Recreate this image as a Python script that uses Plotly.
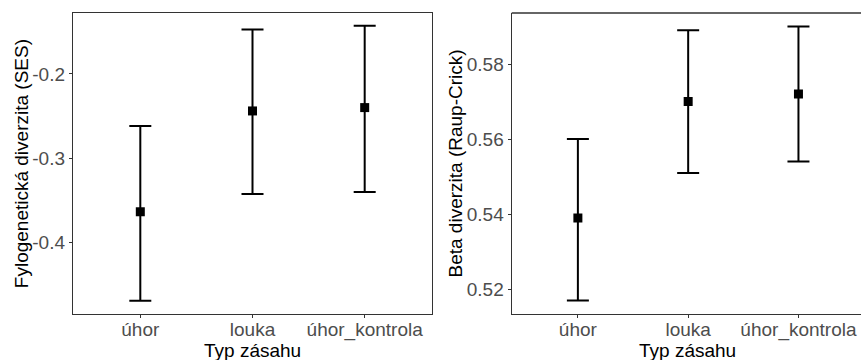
import plotly.graph_objects as go

categories = ["úhor", "louka", "úhor_kontrola"]
pd_mean = [-0.364, -0.244, -0.240]
pd_upper = [-0.262, -0.147, -0.1425]
pd_lower = [-0.470, -0.343, -0.3405]
beta_mean = [0.539, 0.570, 0.572]
beta_upper = [0.560, 0.589, 0.590]
beta_lower = [0.517, 0.551, 0.554]

pd_ticks = [-0.4, -0.3, -0.2]
beta_ticks = [0.52, 0.54, 0.56, 0.58]

W, H = 861, 360
xpos = list(range(len(categories)))
FONT = "Liberation Sans, Arial, sans-serif"
LINE = "#333333"

fig = go.Figure()
fig.add_trace(go.Scatter(
    x=xpos, y=pd_mean, mode="markers",
    marker=dict(symbol="square", size=9, color="black"),
    error_y=dict(type="data", symmetric=False,
                 array=[u - m for u, m in zip(pd_upper, pd_mean)],
                 arrayminus=[m - l for m, l in zip(pd_mean, pd_lower)],
                 thickness=2, width=11, color="black"),
    xaxis="x", yaxis="y", showlegend=False))
fig.add_trace(go.Scatter(
    x=xpos, y=beta_mean, mode="markers",
    marker=dict(symbol="square", size=9, color="black"),
    error_y=dict(type="data", symmetric=False,
                 array=[u - m for u, m in zip(beta_upper, beta_mean)],
                 arrayminus=[m - l for m, l in zip(beta_mean, beta_lower)],
                 thickness=2, width=11, color="black"),
    xaxis="x2", yaxis="y2", showlegend=False))

tickfont = dict(family=FONT, size=19, color="#4d4d4d")
common_ax = dict(showgrid=False, zeroline=False, showline=True, linecolor=LINE,
                 linewidth=1.3, ticks="outside", ticklen=3, tickwidth=1,
                 tickcolor=LINE, tickfont=tickfont)

ydom = [1 - 314 / H, 1 - 13 / H]
fig.update_layout(
    width=W, height=H, margin=dict(l=0, r=0, t=0, b=0),
    paper_bgcolor="white", plot_bgcolor="white",
    xaxis=dict(domain=[73 / W, 432 / W], range=[-0.6, 2.6], tickvals=xpos,
               ticktext=categories, mirror=True, anchor="y",
               ticklabelstandoff=-5, **common_ax),
    yaxis=dict(domain=ydom, range=[-0.4857, -0.1274], tickvals=pd_ticks,
               ticktext=[f"{v:.1f}" for v in pd_ticks], mirror=True, anchor="x",
               **common_ax),
    xaxis2=dict(domain=[511.7 / W, 1.0], range=[-0.6, 2.567], tickvals=xpos,
                ticktext=categories, anchor="y2", ticklabelstandoff=-5,
                **common_ax),
    yaxis2=dict(domain=ydom, range=[0.5134, 0.5936], tickvals=beta_ticks,
                ticktext=[f"{v:.2f}" for v in beta_ticks], anchor="x2",
                **common_ax),
    shapes=[dict(type="line", xref="x2 domain", yref="y2 domain", x0=0, x1=1,
                 y0=1, y1=1, line=dict(color=LINE, width=1.3))],
)

titlefont = dict(family=FONT, size=19, color="black")
ymid = 1 - 163.5 / H
fig.add_annotation(text="Typ zásahu", xref="paper", yref="paper", x=252.5 / W,
                   y=1 - 350 / H, xanchor="center", yanchor="middle",
                   showarrow=False, font=titlefont)
fig.add_annotation(text="Typ zásahu", xref="paper", yref="paper", x=687.5 / W,
                   y=1 - 350 / H, xanchor="center", yanchor="middle",
                   showarrow=False, font=titlefont)
fig.add_annotation(text="Fylogenetická diverzita (SES)", xref="paper", yref="paper",
                   x=21.7 / W, y=ymid, xanchor="center", yanchor="middle",
                   textangle=-90, showarrow=False, font=titlefont)
fig.add_annotation(text="Beta diverzita (Raup-Crick)", xref="paper", yref="paper",
                   x=455 / W, y=ymid, xanchor="center", yanchor="middle",
                   textangle=-90, showarrow=False, font=titlefont)

fig.write_html("out.html")
